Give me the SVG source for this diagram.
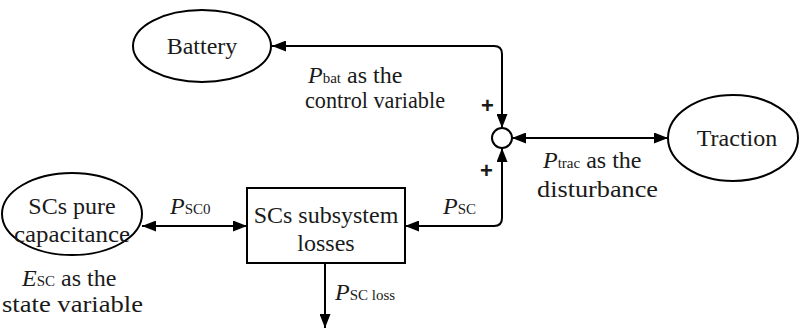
<svg xmlns="http://www.w3.org/2000/svg" width="800" height="335" viewBox="0 0 800 335">
<defs>
<marker id="ah" viewBox="0 0 14 11" refX="14" refY="5.5" markerWidth="14" markerHeight="11" markerUnits="userSpaceOnUse" orient="auto-start-reverse">
<path d="M0,0 L14,5.5 L0,11 Z" fill="#000"/>
</marker>
</defs>
<style>
.shape{fill:#fff;stroke:#000;stroke-width:2}
.ln{fill:none;stroke:#000;stroke-width:2}
.c{text-anchor:middle}
.i{font-style:italic}
.sub{font-size:15px}
.plus{font-family:'Liberation Sans',Arial,sans-serif;font-size:22px;font-weight:bold}
</style>
<rect width="800" height="335" fill="#fff"/>
<g id="connectors">
<path class="ln" d="M502,128 L502,54 Q502,46 494,46 L272,46" marker-start="url(#ah)" marker-end="url(#ah)"/>
<path class="ln" d="M512,138 L668,138" marker-start="url(#ah)" marker-end="url(#ah)"/>
<path class="ln" d="M502,148 L502,218 Q502,226 494,226 L405,226" marker-start="url(#ah)" marker-end="url(#ah)"/>
<path class="ln" d="M142,226 L247,226" marker-start="url(#ah)" marker-end="url(#ah)"/>
<path class="ln" d="M325,263 L325,328" marker-end="url(#ah)"/>
</g>
<g font-family="'Liberation Serif', 'Times New Roman', serif" font-size="24" fill="#1a1a1a">
<g id="battery">
<ellipse class="shape" cx="202" cy="46" rx="69" ry="36"/>
<text class="c" x="202" y="54">Battery</text>
</g>
<g id="sum">
<circle class="shape" cx="502" cy="138" r="10"/>
<text class="plus" x="481" y="113">+</text>
<text class="plus" x="480" y="178">+</text>
</g>
<g id="traction">
<ellipse class="shape" cx="733" cy="138" rx="65" ry="43"/>
<text class="c" x="737" y="146">Traction</text>
</g>
<g id="sc-losses">
<rect class="shape" x="247" y="188" width="158" height="75"/>
<text class="c" x="326" y="223">SCs subsystem</text>
<text class="c" x="326" y="251">losses</text>
</g>
<g id="sc-capacitance">
<ellipse class="shape" cx="72" cy="214" rx="70" ry="41"/>
<text class="c" x="72" y="214">SCs pure</text>
<text x="14" y="242" textLength="116" lengthAdjust="spacingAndGlyphs">capacitance</text>
</g>
<g id="labels">
<text x="308" y="83"><tspan class="i">P</tspan><tspan class="sub">bat</tspan> as the</text>
<text x="305" y="108" textLength="140" lengthAdjust="spacingAndGlyphs">control variable</text>
<text x="543" y="168"><tspan class="i">P</tspan><tspan class="sub">trac</tspan> as the</text>
<text x="537" y="197" textLength="121" lengthAdjust="spacingAndGlyphs">disturbance</text>
<text x="443" y="214"><tspan class="i">P</tspan><tspan class="sub">SC</tspan></text>
<text x="170" y="214"><tspan class="i">P</tspan><tspan class="sub">SC0</tspan></text>
<text x="335" y="300"><tspan class="i">P</tspan><tspan class="sub">SC loss</tspan></text>
<text x="22" y="286"><tspan class="i">E</tspan><tspan class="sub">SC</tspan> as the</text>
<text x="2" y="312" textLength="141" lengthAdjust="spacingAndGlyphs">state variable</text>
</g>
</g>
</svg>
